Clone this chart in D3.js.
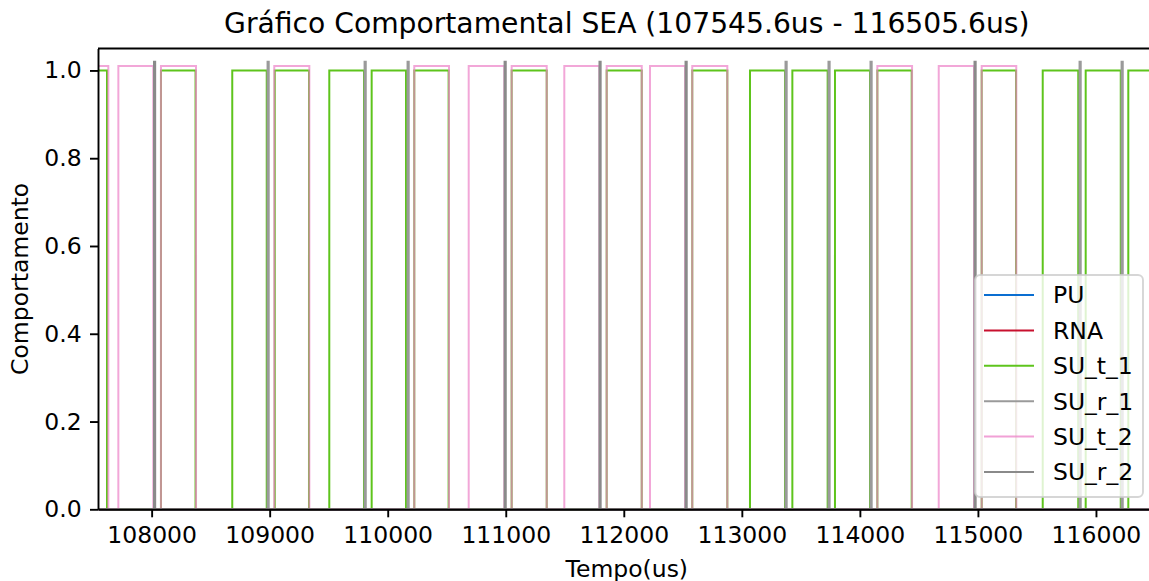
<!DOCTYPE html>
<html>
<head>
<meta charset="utf-8">
<script src="https://cdn.jsdelivr.net/npm/d3@7"></script>
<style>
  body { margin: 0; background: #fff; }
  svg { display: block; font-family: "DejaVu Sans", sans-serif; }
  .tick text { font-size: 23.5px; fill: #000; }
</style>
</head>
<body>
<div class="chart"></div>
<script>
// time window (us)
var tStart = 107545.6;
var tEnd = 116505.6;
var xTicks = [108000, 109000, 110000, 111000, 112000, 113000, 114000, 115000, 116000];
var yTicks = [0.0, 0.2, 0.4, 0.6, 0.8, 1.0];

var seriesNames = ["PU", "RNA", "SU_t_1", "SU_r_1", "SU_t_2", "SU_r_2"];

// SU_t_1 pulses (level 1.0)
var suT1Start = [107325, 108079, 108683, 109043, 109505, 109864, 110225, 111050, 111855, 112580,
  113069, 113428, 113789, 114148, 115032, 115549, 115913, 116274];
var suT1End = [107622, 108372, 108975, 109333, 109799, 110155, 110516, 111347, 112152, 112877,
  113366, 113727, 114086, 114439, 115323, 115850, 116210, 116570];
var suT1Level = 1.0;

// SU_t_2 pulses (level 1.01)
var suT2Start = [107336, 107718, 108079, 109039, 110225, 110686, 111050, 111496, 111855, 112222,
  112580, 114148, 114668, 115032];
var suT2End = [107633, 108014, 108376, 109336, 110519, 110988, 111347, 111793, 112152, 112519,
  112877, 114442, 114967, 115325];
var suT2Level = 1.01;

// SU_r_1 / SU_r_2 short acks (level 1.02)
var suR1Start = [108982, 109804, 110168, 113370, 113734, 114090, 115861, 116217];
var suR1End = [108992, 109814, 110178, 113380, 113744, 114100, 115871, 116227];
var suR2Start = [108020, 110990, 111794, 112523, 114971];
var suR2End = [108030, 111000, 111804, 112533, 114981];
var suRLevel = 1.02;

// PU and RNA stay at zero in this window
var puStart = [];
var puEnd = [];
var rnaStart = [];
var rnaEnd = [];

var colors = ["#0a6ed1", "#c8102e", "#5ec41c", "#9a9a9a", "#ec82c8", "#8a8a8a"];

var svgWidth = 1149;
var svgHeight = 581;

var plotLeft = 98;
var plotTop = 48.5;
var plotBottom = 509.3;
var pxPerUs = 0.11804;
var plotRight = plotLeft + (tEnd - tStart) * pxPerUs;

var svg = d3.select(".chart")
  .append("svg")
  .attr("width", svgWidth)
  .attr("height", svgHeight);

var xScale = d3.scaleLinear()
  .domain([tStart, tEnd])
  .range([plotLeft, plotRight]);

var yScale = d3.scaleLinear()
  .domain([0, 1.05])
  .range([plotBottom, plotTop]);

function pulsePoints(starts, ends, level) {
  var pts = [[tStart - 1000, 0]];
  starts.forEach(function(s, i) {
    pts.push([s, 0], [s, level], [ends[i], level], [ends[i], 0]);
  });
  pts.push([tEnd + 1000, 0]);
  return pts;
}

var series = [
  pulsePoints(puStart, puEnd, 1),
  pulsePoints(rnaStart, rnaEnd, 1),
  pulsePoints(suT1Start, suT1End, suT1Level),
  pulsePoints(suR1Start, suR1End, suRLevel),
  pulsePoints(suT2Start, suT2End, suT2Level),
  pulsePoints(suR2Start, suR2End, suRLevel)
];
var opacities = [1, 1, 1, 1, 0.7, 1];

svg.append("clipPath")
  .attr("id", "plot-clip")
  .append("rect")
  .attr("x", plotLeft)
  .attr("y", plotTop - 5)
  .attr("width", plotRight - plotLeft)
  .attr("height", plotBottom - plotTop + 10);

var line = d3.line()
  .x(d => xScale(d[0]))
  .y(d => yScale(d[1]));

svg.append("g")
  .attr("clip-path", "url(#plot-clip)")
  .selectAll("path")
  .data(series)
  .enter()
  .append("path")
  .attr("d", line)
  .attr("fill", "none")
  .attr("stroke", (d, i) => colors[i])
  .attr("stroke-opacity", (d, i) => opacities[i])
  .attr("stroke-width", 2)
  .attr("stroke-linejoin", "miter");

// axes
var bottomAxis = d3.axisBottom(xScale)
  .tickValues(xTicks)
  .tickFormat(d3.format("d"))
  .tickSize(8)
  .tickSizeOuter(0)
  .tickPadding(9.4);

var leftAxis = d3.axisLeft(yScale)
  .tickValues(yTicks)
  .tickFormat(d3.format(".1f"))
  .tickSize(8)
  .tickSizeOuter(0)
  .tickPadding(8.3);

var xAxis = svg.append("g")
  .attr("transform", `translate(0, ${plotBottom})`)
  .call(bottomAxis);

var yAxis = svg.append("g")
  .attr("transform", `translate(${plotLeft}, 0)`)
  .call(leftAxis);

[xAxis, yAxis].forEach(function(ax) {
  ax.select(".domain").attr("stroke", "#000").attr("stroke-width", 1.9);
  ax.selectAll(".tick line").attr("stroke", "#000").attr("stroke-width", 1.9);
  ax.selectAll(".tick text").style("font-family", "DejaVu Sans").attr("font-size", null);
});

// top spine
svg.append("line")
  .attr("x1", plotLeft)
  .attr("x2", plotRight)
  .attr("y1", plotTop)
  .attr("y2", plotTop)
  .attr("stroke", "#000")
  .attr("stroke-width", 1.9);

// right spine (off screen)
svg.append("line")
  .attr("x1", plotRight)
  .attr("x2", plotRight)
  .attr("y1", plotTop)
  .attr("y2", plotBottom)
  .attr("stroke", "#000")
  .attr("stroke-width", 1.9);

// title and labels
svg.append("text")
  .attr("x", (plotLeft + plotRight) / 2)
  .attr("y", 33.3)
  .attr("text-anchor", "middle")
  .attr("font-size", "28.2px")
  .text("Gráfico Comportamental SEA (" + tStart + "us - " + tEnd + "us)");

svg.append("text")
  .attr("x", (plotLeft + plotRight) / 2)
  .attr("y", 576.5)
  .attr("text-anchor", "middle")
  .attr("font-size", "23.5px")
  .text("Tempo(us)");

svg.append("text")
  .attr("transform", `translate(28, ${(plotTop + plotBottom) / 2}) rotate(-90)`)
  .attr("text-anchor", "middle")
  .attr("font-size", "23.5px")
  .text("Comportamento");

// legend
var legend = svg.append("g")
  .attr("transform", "translate(975, 275)");

legend.append("rect")
  .attr("width", 168)
  .attr("height", 222)
  .attr("rx", 5)
  .attr("fill", "#fff")
  .attr("fill-opacity", 0.8)
  .attr("stroke", "#cccccc")
  .attr("stroke-opacity", 0.8)
  .attr("stroke-width", 1.9);

var legendRows = legend.selectAll(".legend-row")
  .data(seriesNames)
  .enter()
  .append("g")
  .attr("class", "legend-row")
  .attr("transform", (d, i) => `translate(0, ${20 + i * 35.4})`);

legendRows.append("line")
  .attr("x1", 9)
  .attr("x2", 59)
  .attr("stroke", (d, i) => colors[i])
  .attr("stroke-opacity", (d, i) => opacities[i] < 1 ? 0.75 : 1)
  .attr("stroke-width", 2);

legendRows.append("text")
  .attr("x", 78)
  .attr("dy", "0.36em")
  .attr("font-size", "23.5px")
  .text(d => d);
</script>
</body>
</html>
